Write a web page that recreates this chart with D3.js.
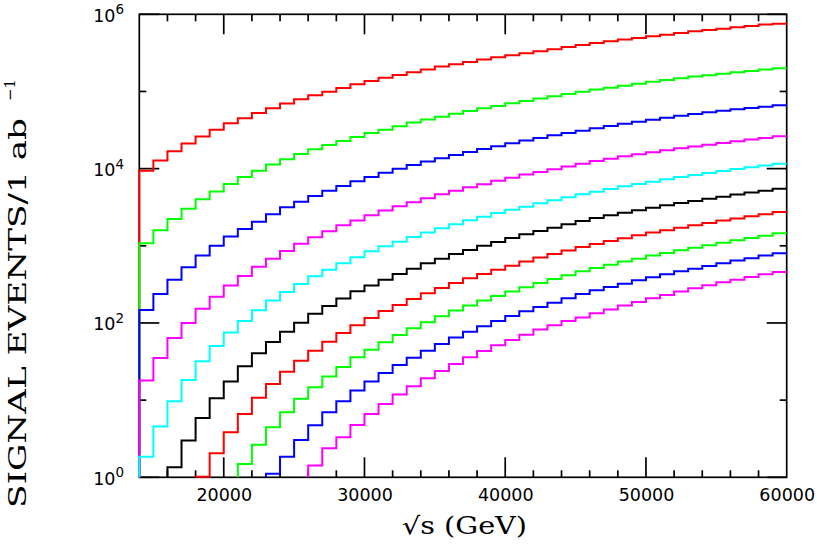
<!DOCTYPE html>
<html>
<head>
<meta charset="utf-8">
<script src="https://cdn.jsdelivr.net/npm/d3@7"></script>
<style>
  html, body { margin: 0; padding: 0; background: #fff; }
  svg { display: block; }
</style>
</head>
<body>
<svg id="chart" width="817" height="545"></svg>
<script>
// ---- data (events per bin of 1000 GeV) ----
const xDomain = [14000, 60000];
const binEdges = d3.range(14000, 60001, 1000);
const xMajorTicks = [20000, 30000, 40000, 50000, 60000];
const xMinorTicks = [16000, 18000, 22000, 24000, 26000, 28000, 32000, 34000, 36000, 38000,
                     42000, 44000, 46000, 48000, 52000, 54000, 56000, 58000];
const yDecades = [1, 10, 100, 1000, 10000, 100000, 1000000];
const yLabelExps = [0, 2, 4, 6];

const s1 = [9420,12700,16800,21100,26000,32000,38700,44900,52700,60500,69600,79200,89200,99500,111000,124000,
  137000,151000,164000,177000,192000,210000,225000,241000,259000,277000,294000,312000,332000,352000,377000,
  401000,425000,447000,470000,494000,519000,545000,573000,602000,627000,652000,679000,706000,735000,757000];
const s2 = [1080,1590,2230,3030,4010,5040,6330,7800,9420,11300,13200,15500,17800,20300,22800,25700,
  29000,32000,35400,39500,43200,47200,51600,55900,60500,64900,70300,75300,80800,86600,92800,
  99500,106000,112000,119000,126000,134000,141000,148000,156000,162000,170000,177000,184000,192000,200000];
const s3 = [147,238,364,527,746,1005,1315,1653,2057,2560,3155,3736,4424,5187,5963,6853,
  7800,8876,10000,11160,12330,13610,15040,16440,17980,19480,21300,23070,24970,27040,28990,
  31080,33320,35730,38300,40660,43150,45810,48630,51110,53720,56450,58740,61130,63610,66190];
const s4 = [17.9,35.2,63.9,100,153,219,305,407,537,682,858,1067,1289,1541,1844,2120,
  2485,2857,3250,3662,4127,4650,5187,5730,6266,6991,7645,8363,9055,9804,10620,
  11610,12570,13480,14450,15340,16280,17290,18350,19290,20470,21510,22610,23770,24970,26250];
const s5 = [1.85,4.54,9.66,18.3,31.9,50.4,75.0,106,146,195,252,320,402,491,593,710,
  849,985,1132,1302,1482,1686,1900,2141,2388,2664,2943,3218,3554,3888,4252,
  4650,5035,5452,5904,6328,6784,7273,7800,8279,8788,9329,9901,10410,10940,11610];
const s6 = [null,null,1.35,2.99,5.87,10.6,17.5,27.5,40.5,56.7,77.2,101,132,166,207,257,
  305,364,432,506,593,682,784,883,1005,1121,1263,1410,1557,1720,1900,
  2098,2294,2485,2691,2885,3123,3348,3590,3811,4086,4337,4605,4888,5187,5507];
const s7 = [null,null,null,null,1.02,2.05,3.83,6.62,10.7,16.2,23.4,32.5,43.8,57.3,74.2,93.3,
  116,143,171,205,242,284,330,379,432,491,553,624,703,784,866,
  966,1056,1155,1251,1368,1482,1588,1720,1844,1977,2120,2250,2412,2560,2745];
const s8 = [null,null,null,null,null,null,null,1.49,2.65,4.45,6.96,10.4,14.7,20.2,26.9,35.9,
  45.1,56.2,69.9,85.3,102,122,145,168,195,224,255,290,330,372,415,
  467,516,570,624,682,746,808,875,947,1015,1099,1179,1263,1354,1452];
const s9 = [null,null,null,null,null,null,null,null,null,1.11,1.85,3.05,4.72,6.96,9.66,13.3,
  17.5,22.5,28.6,35.5,43.8,53.4,64.6,77.2,90.6,106,123,142,161,183,209,
  238,265,293,323,357,391,427,467,506,548,593,643,689,746,799];
const s10 = [null,null,null,null,null,null,null,null,null,null,null,null,1.42,2.38,3.30,4.77,
  6.62,8.92,11.8,15.1,19.2,23.9,29.4,35.9,43.4,51.4,60.2,70.6,82.0,93.3,106,
  118,134,150,168,187,209,231,255,281,308,337,364,395,427,458];

const seriesList = [s1, s2, s3, s4, s5, s6, s7, s8, s9, s10];
const seriesColors = ["#ff0000","#00ff00","#0000ff","#ff00ff","#00ffff",
                      "#000000","#ff0000","#00ff00","#0000ff","#ff00ff"];

// ---- layout ----
const plot = { left: 139.3, right: 786.7, top: 14.3, bottom: 477.3 };
const svg = d3.select("#chart");

const x = d3.scaleLinear().domain(xDomain).range([plot.left, plot.right]);
const y = d3.scaleLog().domain([1, 1e6]).range([plot.bottom, plot.top]);

const axisG = svg.append("g").attr("stroke", "#000").attr("stroke-width", 1.7).attr("fill", "none");

// frame
axisG.append("rect")
  .attr("x", plot.left).attr("y", plot.top)
  .attr("width", plot.right - plot.left).attr("height", plot.bottom - plot.top);

const majorLen = 20, minorLen = 7;
// x ticks (bottom and top, pointing inward)
const xTicks = xMajorTicks.filter(v => v < xDomain[1]).map(v => ({v, len: majorLen}))
  .concat(xMinorTicks.map(v => ({v, len: minorLen})));
xTicks.forEach(t => {
  axisG.append("line").attr("x1", x(t.v)).attr("x2", x(t.v))
    .attr("y1", plot.bottom).attr("y2", plot.bottom - t.len);
  axisG.append("line").attr("x1", x(t.v)).attr("x2", x(t.v))
    .attr("y1", plot.top).attr("y2", plot.top + t.len);
});
// y ticks (left and right)
yDecades.forEach((v, i) => {
  const len = (i % 2 === 0) ? majorLen : minorLen;
  axisG.append("line").attr("x1", plot.left).attr("x2", plot.left + len)
    .attr("y1", y(v)).attr("y2", y(v));
  axisG.append("line").attr("x1", plot.right).attr("x2", plot.right - len)
    .attr("y1", y(v)).attr("y2", y(v));
});

// x tick labels via d3 axis
const xAxis = d3.axisBottom(x).tickValues(xMajorTicks).tickSize(0).tickPadding(0)
  .tickFormat(d3.format("d"));
const xAxisG = svg.append("g").attr("transform", `translate(0,${plot.bottom})`).call(xAxis);
xAxisG.select(".domain").remove();
xAxisG.selectAll("text")
  .attr("font-family", "DejaVu Sans").attr("font-size", 17.5).attr("fill", "#000")
  .attr("dy", null).attr("y", 24);

// y tick labels 10^n
const yl = svg.append("g").attr("font-family", "DejaVu Sans").attr("fill", "#000");
yLabelExps.forEach(e => {
  const t = yl.append("text").attr("x", 124).attr("y", y(Math.pow(10, e)) + 7.5)
    .attr("text-anchor", "end").attr("font-size", 17.5);
  t.append("tspan").text("10");
  t.append("tspan").attr("dy", -7.5).attr("font-size", 13.5).text(String(e));
});

// axis titles
svg.append("text")
  .attr("x", 402).attr("y", 534)
  .attr("font-family", "DejaVu Serif").attr("font-size", 24).attr("fill", "#000")
  .attr("textLength", 125).attr("lengthAdjust", "spacingAndGlyphs")
  .text("\u221As (GeV)");

svg.append("text")
  .attr("transform", "translate(26,508) rotate(-90)")
  .attr("font-family", "DejaVu Serif").attr("font-size", 24).attr("fill", "#000")
  .attr("textLength", 390).attr("lengthAdjust", "spacingAndGlyphs")
  .text("SIGNAL EVENTS/1 ab");
svg.append("text")
  .attr("transform", "translate(15,101) rotate(-90)")
  .attr("font-family", "DejaVu Serif").attr("font-size", 15).attr("fill", "#000")
  .attr("textLength", 22).attr("lengthAdjust", "spacingAndGlyphs")
  .text("\u22121");

// ---- histograms ----
const line = d3.line().x(d => x(d[0])).y(d => y(Math.max(1, d[1])));
function stepPoints(vals) {
  const i0 = vals.findIndex(v => v != null);
  const pts = [[binEdges[i0], 1]];
  for (let i = i0; i < vals.length; i++) {
    pts.push([binEdges[i], vals[i]], [binEdges[i + 1], vals[i]]);
  }
  return pts;
}
const dataG = svg.append("g");
seriesList.forEach((vals, k) => {
  dataG.append("path")
    .attr("d", line(stepPoints(vals)))
    .attr("fill", "none")
    .attr("stroke", seriesColors[k])
    .attr("stroke-width", 2)
    .attr("stroke-linejoin", "miter");
});
</script>
</body>
</html>
